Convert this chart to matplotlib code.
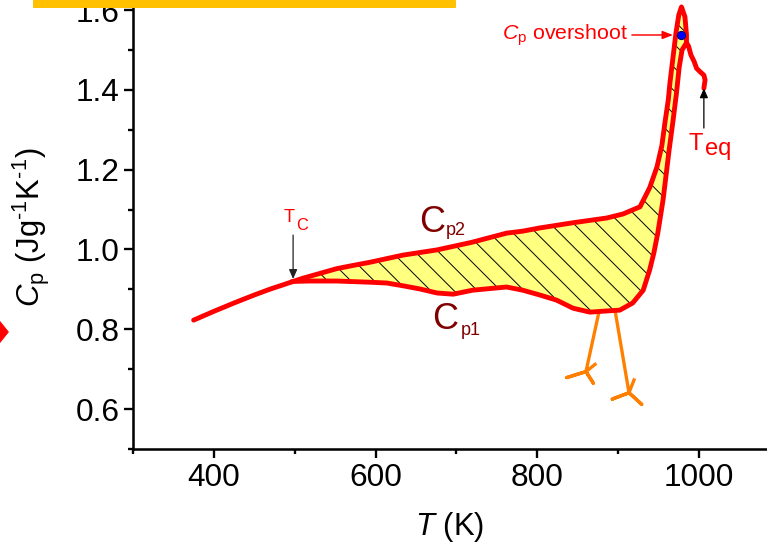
import matplotlib
matplotlib.use('Agg')
import matplotlib.pyplot as plt
from matplotlib.patches import Polygon, Rectangle
from matplotlib.ticker import MultipleLocator

plt.rcParams['font.family'] = ['Liberation Sans', 'DejaVu Sans']
plt.rcParams['mathtext.fontset'] = 'custom'
plt.rcParams['mathtext.rm'] = 'Liberation Sans'
plt.rcParams['mathtext.it'] = 'Liberation Sans:italic'
plt.rcParams['mathtext.bf'] = 'Liberation Sans:bold'
plt.rcParams['hatch.color'] = 'black'
plt.rcParams['hatch.linewidth'] = 1.0

# shared part of the scan, below Tc
t_start = [375, 400, 425, 450, 470, 485, 498]
cp_start = [0.823, 0.845, 0.866, 0.886, 0.901, 0.911, 0.920]

# Cp1 (lower branch) from Tc up to where it meets Cp2 near the peak
t_cp1 = [519, 552, 593, 614, 634, 655, 676, 696, 720, 762, 782, 803, 824, 844,
         865, 886, 902, 918, 931, 939, 944, 949, 955.5, 960.5, 963, 968, 972,
         975.5, 979, 984.5]
cp_cp1 = [0.921, 0.921, 0.918, 0.916, 0.909, 0.901, 0.891, 0.888, 0.898, 0.906,
          0.898, 0.886, 0.873, 0.853, 0.843, 0.846, 0.848, 0.866, 0.898, 0.949,
          0.990, 1.041, 1.124, 1.207, 1.249, 1.325, 1.390, 1.457, 1.500, 1.518]

# Cp2 (upper branch) from Tc over the overshoot peak
t_cp2 = [510, 531, 552, 572, 593, 634, 676, 719, 762, 782, 803, 844, 886, 906,
         927, 939, 948, 954, 958, 962, 964, 971.5, 975, 978.3, 982.6, 984.5, 984.5]
cp_cp2 = [0.928, 0.940, 0.952, 0.960, 0.968, 0.986, 0.999, 1.018, 1.041, 1.046,
          1.054, 1.067, 1.079, 1.089, 1.107, 1.155, 1.207, 1.260, 1.320, 1.375,
          1.417, 1.543, 1.588, 1.608, 1.583, 1.538, 1.518]

# shared tail down to Teq
t_tail = [987, 990, 994, 997, 1001, 1006, 1007.5, 1006]
cp_tail = [1.510, 1.4875, 1.471, 1.454, 1.446, 1.437, 1.425, 1.404]

# the two legs: top, knee, toe, knee, toe, knee, toe
leg1_t = [876.3, 860.2, 836.4, 860.2, 869.3, 860.2, 871.4]
leg1_cp = [0.844, 0.694, 0.679, 0.694, 0.665, 0.694, 0.712]
leg2_t = [896.1, 913.4, 892.7, 913.4, 929.1, 913.4, 919.6]
leg2_cp = [0.848, 0.641, 0.625, 0.641, 0.612, 0.641, 0.673]

t_tc, cp_tc = 498, 0.926
t_eq, cp_eq = 1006, 1.404
t_over, cp_over = 977.3, 1.5376

fig = plt.figure(figsize=(767 / 70, 553 / 70), dpi=70)
ax = fig.add_axes([133 / 767, 104 / 553, 634 / 767, 449 / 553])

# hatched area between the branches
t_fill = [t_start[-1]] + t_cp2 + t_cp1[::-1]
cp_fill = [cp_start[-1]] + cp_cp2 + cp_cp1[::-1]
ax.fill(t_fill, cp_fill, facecolor='#FFFF80', edgecolor='black', hatch='\\',
        linewidth=0, zorder=1)

ax.plot(leg1_t, leg1_cp, color='#FF8000', lw=3.4, zorder=1.5)
ax.plot(leg2_t, leg2_cp, color='#FF8000', lw=3.4, zorder=1.5)

ax.plot(t_start + t_cp1 + t_tail, cp_start + cp_cp1 + cp_tail, color='red',
        lw=5, solid_joinstyle='round', solid_capstyle='round', zorder=3)
ax.plot([t_start[-1]] + t_cp2, [cp_start[-1]] + cp_cp2, color='red', lw=5,
        solid_joinstyle='round', zorder=3)

ax.plot([t_over], [cp_over], 'o', color='#0000FF', mec='#000060', mew=1,
        ms=8.5, zorder=4)

# labels on the curves
ax.text(685.9, 1.0446, 'C', fontsize=37, color='#800000', ha='right', va='baseline')
ax.text(687, 1.036, 'p2', fontsize=18.5, color='#800000', ha='left', va='baseline')
ax.text(702.5, 0.800, 'C', fontsize=37, color='#800000', ha='right', va='baseline')
ax.text(705, 0.786, 'p1', fontsize=18.5, color='#800000', ha='left', va='baseline')

ax.text(500.3, 1.0697, 'T', fontsize=18.7, color='red', ha='right', va='baseline')
ax.text(501.6, 1.0489, 'C', fontsize=16.8, color='red', ha='left', va='baseline')
ax.annotate('', xy=(t_tc, cp_tc), xytext=(t_tc, 1.036),
            arrowprops=dict(arrowstyle='-|>,head_length=0.8,head_width=0.35',
                            color='#222222', lw=1.3, mutation_scale=10,
                            shrinkA=0, shrinkB=0))

ax.text(1005.3, 1.249, 'T', fontsize=24.4, color='red', ha='right', va='baseline')
ax.text(1007.4, 1.237, 'eq', fontsize=24.4, color='red', ha='left', va='baseline')
ax.annotate('', xy=(t_eq, cp_eq), xytext=(t_eq, 1.3045),
            arrowprops=dict(arrowstyle='-|>,head_length=0.8,head_width=0.35',
                            color='black', lw=1.3, mutation_scale=10,
                            shrinkA=0, shrinkB=0))

ax.annotate('$C_\\mathrm{p}$ overshoot', xy=(967.8, cp_over), xytext=(912.2, cp_over),
            fontsize=22, color='red', ha='right', va='center',
            arrowprops=dict(arrowstyle='-|>,head_length=0.9,head_width=0.35',
                            color='red', lw=1.5, mutation_scale=10,
                            shrinkA=2, shrinkB=0))

ax.set_xlim(300, 300 + 634 / 0.8086)
ax.set_ylim(0.5, 0.5 + 449 / 399)
ax.xaxis.set_major_locator(MultipleLocator(200))
ax.xaxis.set_minor_locator(MultipleLocator(100))
ax.yaxis.set_major_locator(MultipleLocator(0.2))
ax.yaxis.set_minor_locator(MultipleLocator(0.1))
ax.tick_params(which='major', direction='out', length=9, width=2.4,
               labelsize=32.5, pad=5)
ax.tick_params(which='minor', direction='out', length=5, width=2.4)
ax.spines['top'].set_visible(False)
ax.spines['right'].set_visible(False)
ax.spines['left'].set_linewidth(2.6)
ax.spines['bottom'].set_linewidth(2.6)

ax.set_ylabel('$C_\\mathrm{p}$ (Jg$^{\\text{-}1}$K$^{\\text{-}1}$)', fontsize=32)
ax.yaxis.set_label_coords(-0.128, 0.494)
ax.set_xlabel('$T$ (K)', fontsize=32, va='top')
ax.xaxis.set_label_coords(0.5, -0.136)

# bits of neighbouring slide shapes cut by the crop
fig.add_artist(Rectangle((33 / 767, 1 - 7.3 / 553), 422 / 767, 7.3 / 553,
                         transform=fig.transFigure, color='#FFC000', zorder=5))
fig.add_artist(Polygon([(-16.3 / 767, 1 - 332 / 553), (-4 / 767, 1 - 316.7 / 553),
                        (8.3 / 767, 1 - 332 / 553), (-4 / 767, 1 - 347.3 / 553)],
                       closed=True, transform=fig.transFigure, color='red', zorder=5))

fig.savefig('out.png', dpi=70)
